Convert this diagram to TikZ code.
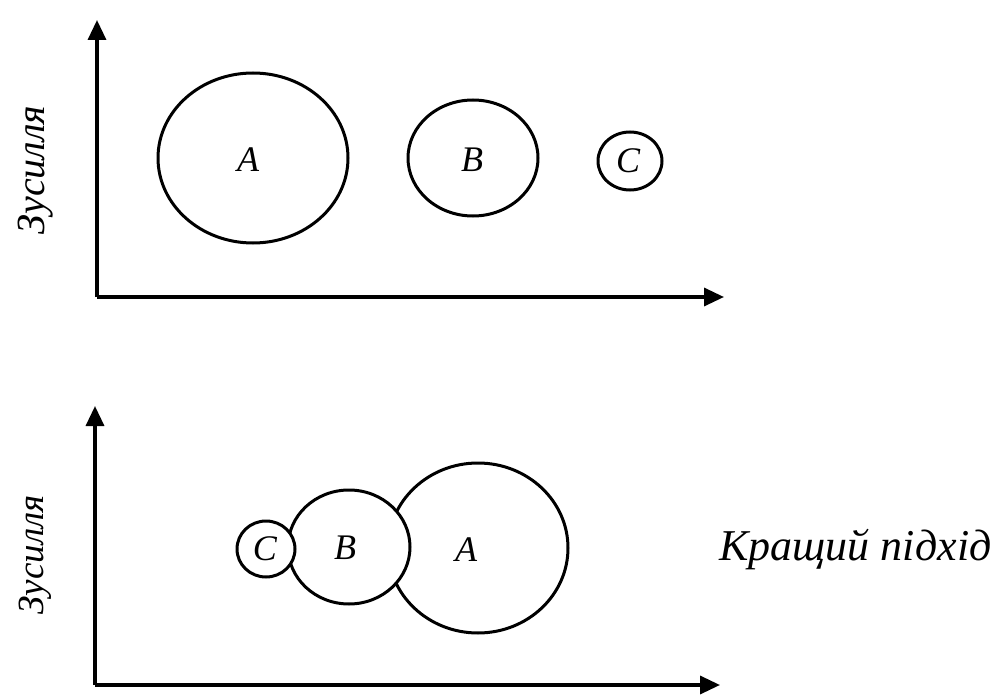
\documentclass[tikz,border=0pt]{standalone}
\usepackage{fontspec}
\setmainfont{Liberation Serif}
\usetikzlibrary{arrows.meta,shapes.geometric}
\begin{document}
\begin{tikzpicture}[x=1pt,y=-1pt,
  axis/.style={line width=3.4pt,-{Triangle[length=20pt,width=18pt]}},
  circ/.style={draw,ellipse,line width=3pt,inner sep=0pt},
  lab/.style={font=\fontsize{36}{38}\selectfont\itshape},
  ylab/.style={font=\fontsize{#1}{40}\selectfont\itshape,rotate=90},
  note/.style={font=\fontsize{44}{46}\selectfont\itshape,anchor=west}]
\useasboundingbox (0,0) rectangle (999,698);
% top panel
\coordinate (o1) at (97,297);
\coordinate (y1) at (97,20);
\coordinate (x1) at (724,297);
\draw[axis] (o1) -- (y1);
\draw[axis] (o1) -- (x1);
\node[circ,minimum width=190pt,minimum height=170pt] (A1) at (253,158) {};
\node[circ,minimum width=130pt,minimum height=116pt] (B1) at (473,158) {};
\node[circ,minimum width=64pt,minimum height=58pt] (C1) at (630,161) {};
\node[lab] (tA1) at (248,160) {A};
\node[lab] (tB1) at (472,160) {B};
\node[lab] (tC1) at (628,161) {C};
\node[ylab=40] (yl1) at (36,170) {Зусилля};
% bottom panel
\coordinate (o2) at (95,685);
\coordinate (y2) at (95,406);
\coordinate (x2) at (720,685);
\draw[axis] (o2) -- (y2);
\draw[axis] (o2) -- (x2);
\node[circ,minimum width=180pt,minimum height=170pt] (A2) at (478,548) {};
\node[circ,fill=white,minimum width=122pt,minimum height=114pt] (B2) at (349,547) {};
\node[circ,fill=white,minimum width=58pt,minimum height=56pt] (C2) at (266,549) {};
\node[lab] (tA2) at (466,550) {A};
\node[lab] (tB2) at (345,548) {B};
\node[lab] (tC2) at (265,549) {C};
\node[ylab=37] (yl2) at (35,555) {Зусилля};
\node[note] (best) at (716,550) {Кращий підхід};
\end{tikzpicture}
\end{document}
